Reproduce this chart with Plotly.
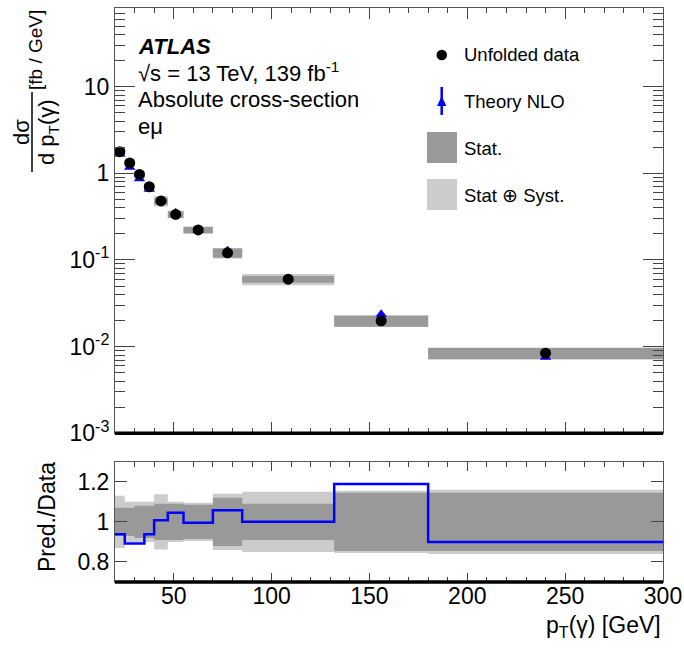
import plotly.graph_objects as go

# ---------------- data ----------------
edges = [20, 25, 30, 35, 40, 47, 55, 70, 85, 132, 180, 300]
data_xsec = [1.78, 1.32, 0.97, 0.70, 0.48, 0.336, 0.222, 0.121, 0.060, 0.0199, 0.0084]
ratio_nlo = [0.938, 0.892, 0.892, 0.938, 1.008, 1.045, 0.995, 1.058, 1.0, 1.189, 0.90]
stat_rel = [0.07, 0.07, 0.08, 0.08, 0.09, 0.09, 0.085, 0.12, 0.09, 0.145, 0.145]
tot_rel = [0.13, 0.10, 0.10, 0.10, 0.138, 0.10, 0.095, 0.14, 0.15, 0.155, 0.16]
y_tickvals = [1e-3, 1e-2, 1e-1, 1, 10]
y_ticktext = ["10<sup>-3</sup>", "10<sup>-2</sup>", "10<sup>-1</sup>", "1", "10"]
x_tickvals = [50, 100, 150, 200, 250, 300]
r_tickvals = [0.8, 1.0, 1.2]
r_ticktext = ["0.8", "1", "1.2"]

centers = [(edges[i] + edges[i + 1]) / 2 for i in range(len(data_xsec))]
theory = [d * r for d, r in zip(data_xsec, ratio_nlo)]

FONT = "Liberation Sans, Arial, Helvetica, sans-serif"
DARK = "#999999"
LIGHT = "#cccccc"
TICKC = "#444444"


def boxes(center_vals, rel):
    xs, ys = [], []
    for i, (v, e) in enumerate(zip(center_vals, rel)):
        lo, hi = edges[i], edges[i + 1]
        b, t = v * (1 - e), v * (1 + e)
        xs += [lo, hi, hi, lo, lo, None]
        ys += [b, b, t, t, b, None]
    return xs, ys


fig = go.Figure()

# main panel boxes
for rel, col in [(tot_rel, LIGHT), (stat_rel, DARK)]:
    bx, by = boxes(data_xsec, rel)
    fig.add_trace(go.Scatter(x=bx, y=by, fill="toself", fillcolor=col, mode="lines",
                             line=dict(width=0, color=col), xaxis="x", yaxis="y",
                             hoverinfo="skip", showlegend=False))
fig.add_trace(go.Scatter(x=centers, y=theory, mode="markers",
                         marker=dict(symbol="triangle-up", size=10, color="#0000ff"),
                         xaxis="x", yaxis="y", showlegend=False))
fig.add_trace(go.Scatter(x=centers, y=data_xsec, mode="markers",
                         marker=dict(symbol="circle", size=11, color="black"),
                         xaxis="x", yaxis="y", showlegend=False))

# ratio panel bands
ones = [1.0] * len(data_xsec)
for rel, col in [(tot_rel, LIGHT), (stat_rel, DARK)]:
    bx, by = boxes(ones, rel)
    fig.add_trace(go.Scatter(x=bx, y=by, fill="toself", fillcolor=col, mode="lines",
                             line=dict(width=0, color=col), xaxis="x2", yaxis="y2",
                             hoverinfo="skip", showlegend=False))
fig.add_trace(go.Scatter(x=edges, y=ratio_nlo + [ratio_nlo[-1]], mode="lines",
                         line=dict(shape="hv", color="#0000ff", width=2.5),
                         xaxis="x2", yaxis="y2", showlegend=False))

# ---------------- layout ----------------
SW, SH = 684, 648
L, R, T, B = 115, 663, 8, 582


def fx(p):
    return (p - L) / (R - L)


def fy(p):
    return (B - p) / (B - T)


main_bottom = fy(433.3)
ratio_top = fy(461.7)

axis_common = dict(showline=True, linecolor="#555555", linewidth=1, mirror="allticks",
                   ticks="inside", tickcolor=TICKC, showgrid=False, zeroline=False,
                   automargin=False,
                   tickfont=dict(family=FONT, size=23, color="black"))

fig.update_layout(
    width=SW, height=SH, autosize=False, showlegend=False,
    margin=dict(l=L, r=SW - R, t=T, b=SH - B, pad=0, autoexpand=False),
    paper_bgcolor="white", plot_bgcolor="white",
    font=dict(family=FONT, color="black"),
    xaxis=dict(axis_common, domain=[0, 1], anchor="y", range=[20, 300],
               tickvals=x_tickvals, showticklabels=False, ticklen=11,
               minor=dict(tickmode="linear", tick0=20, dtick=10, ticks="inside",
                          ticklen=5, tickcolor=TICKC)),
    yaxis=dict(axis_common, domain=[main_bottom, 1], anchor="x", type="log",
               range=[-3, 1.908], tickvals=y_tickvals, ticktext=y_ticktext, ticklen=20,
               minor=dict(tickmode="array",
                          tickvals=[k * 10 ** e for e in range(-3, 2) for k in range(2, 10)],
                          ticks="inside", ticklen=10, tickcolor=TICKC)),
    xaxis2=dict(axis_common, domain=[0, 1], anchor="y2", range=[20, 300], matches="x",
                tickvals=x_tickvals, ticklen=9, ticklabelstandoff=-7,
                minor=dict(tickmode="linear", tick0=20, dtick=10, ticks="inside",
                           ticklen=5, tickcolor=TICKC)),
    yaxis2=dict(axis_common, domain=[0, ratio_top], anchor="x2", range=[0.7, 1.3],
                tickvals=r_tickvals, ticktext=r_ticktext, ticklen=12),
)

shapes = []
# thick bottom axis lines
for xr, yr in [("x domain", "y domain"), ("x2 domain", "y2 domain")]:
    shapes.append(dict(type="line", xref=xr, yref=yr, x0=0, x1=1, y0=0, y1=0,
                       line=dict(color="black", width=3.5), layer="above"))
# y-axis title fraction bar
shapes.append(dict(type="line", xref="paper", yref="paper", x0=fx(32), x1=fx(32),
                   y0=fy(92), y1=fy(172), line=dict(color="black", width=1.5)))
# legend symbols
shapes.append(dict(type="circle", xref="paper", yref="paper", x0=fx(436.5), x1=fx(447),
                   y0=fy(60.2), y1=fy(49.8), fillcolor="black", line=dict(width=0)))
shapes.append(dict(type="line", xref="paper", yref="paper", x0=fx(441.7), x1=fx(441.7),
                   y0=fy(87), y1=fy(115), line=dict(color="#0000ff", width=2.5)))
shapes.append(dict(type="path", xref="paper", yref="paper",
                   path=f"M {fx(437)} {fy(106)} L {fx(446.4)} {fy(106)} L {fx(441.7)} {fy(96)} Z",
                   fillcolor="#0000ff", line=dict(width=0)))
shapes.append(dict(type="rect", xref="paper", yref="paper", x0=fx(427), x1=fx(457),
                   y0=fy(163), y1=fy(132), fillcolor=DARK, line=dict(width=0)))
shapes.append(dict(type="rect", xref="paper", yref="paper", x0=fx(427), x1=fx(457),
                   y0=fy(210), y1=fy(179), fillcolor=LIGHT, line=dict(width=0)))

ann = []


def text(t, x, y, size, xanchor="left", angle=0):
    ann.append(dict(text=t, x=fx(x), y=fy(y), xref="paper", yref="paper",
                    xanchor=xanchor, yanchor="middle", showarrow=False, textangle=angle,
                    font=dict(family=FONT, size=size, color="black")))


text("<b><i>ATLAS</i></b>", 136, 46, 22)
text("√s = 13 TeV, 139 fb<sup>-1</sup>", 136, 72, 22)
text("Absolute cross-section", 136, 99, 22)
text("eμ", 136, 127, 22)
text("Unfolded data", 462, 55, 18.5)
text("Theory NLO", 462, 101, 18.5)
text("Stat.", 462, 148, 18.5)
text("Stat ⊕ Syst.", 462, 195, 18.5)
# axis titles
text("p<sub>T</sub>(γ) [GeV]", 663, 626, 23, xanchor="right")
text("Pred./Data", 47, 517, 23, xanchor="center", angle=-90)
text("dσ", 21, 132, 22, xanchor="center", angle=-90)
text("d p<sub>T</sub>(γ)", 48, 132, 22, xanchor="center", angle=-90)
text("[fb / GeV]", 36, 50, 19, xanchor="center", angle=-90)

fig.update_layout(shapes=shapes, annotations=ann)
fig.write_html("out.html",
               config=dict(displayModeBar=False, responsive=False),
               post_script="document.body.style.margin='0';"
                           "document.body.style.overflow='hidden';")
